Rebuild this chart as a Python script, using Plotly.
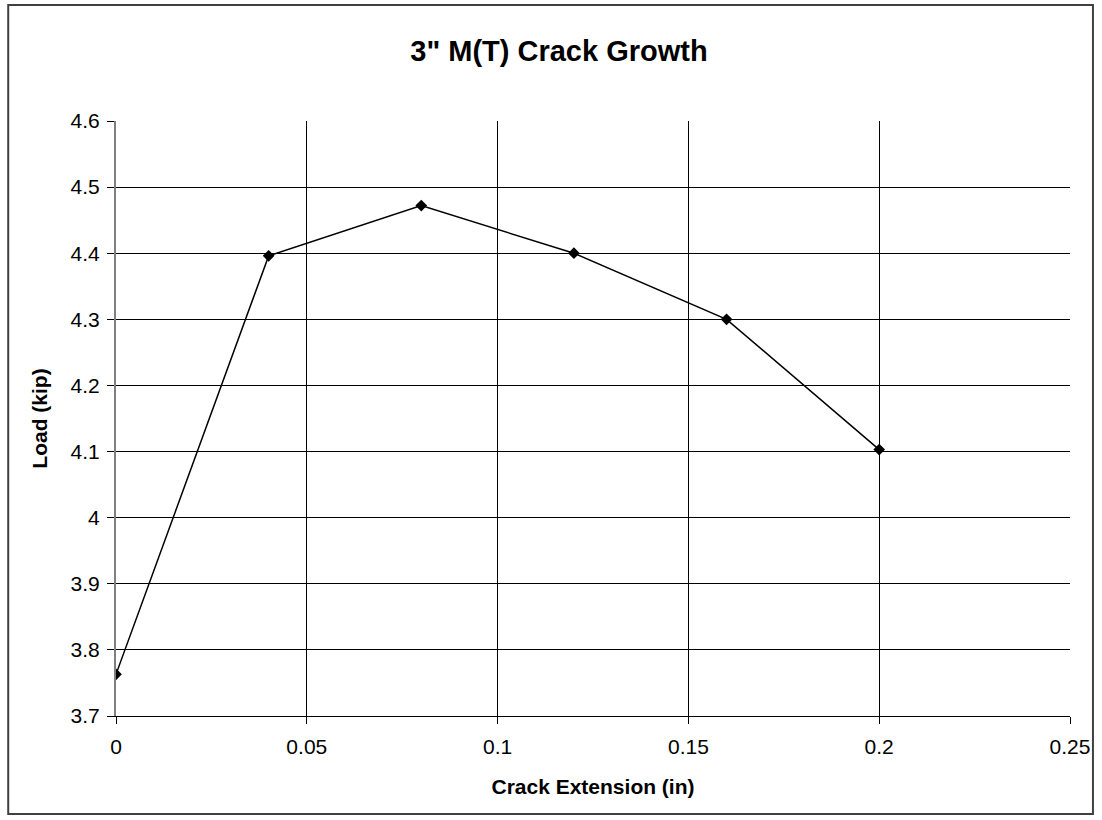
import plotly.graph_objects as go

crack_ext = [0, 0.04, 0.08, 0.12, 0.16, 0.2]
load_kip = [3.763, 4.396, 4.472, 4.400, 4.300, 4.103]

W, H = 1102, 820
L, R, T, B = 116, 30, 121, 104
pw, ph = W - L - R, H - T - B

def px(x):
    return (x - L) / pw

def py(y):
    return (H - B - y) / ph

fig = go.Figure()
fig.add_trace(go.Scatter(
    x=crack_ext, y=load_kip, mode="lines+markers",
    line=dict(color="black", width=1.5),
    marker=dict(symbol="diamond", size=9, color="black"),
    showlegend=False,
))

fig.update_layout(
    width=W, height=H,
    margin=dict(l=L, r=R, t=T, b=B),
    paper_bgcolor="white", plot_bgcolor="white",
    font=dict(family="Arial, Liberation Sans, sans-serif", size=21, color="black"),
    title=dict(text="<b>3\" M(T) Crack Growth</b>", x=559 / W, xanchor="center",
               y=1 - 51 / H, yanchor="middle", font=dict(size=29)),
    xaxis=dict(range=[0, 0.25], dtick=0.05, tick0=0, showgrid=True, gridcolor="black", gridwidth=1,
               showline=True, linecolor="black", linewidth=1, mirror=False,
               ticks="outside", ticklen=7, tickcolor="black", zeroline=False,
               tickfont=dict(size=21), ticklabelstandoff=5,
               title=dict(text="<b>Crack Extension (in)</b>", font=dict(size=21), standoff=22)),
    yaxis=dict(range=[3.7, 4.6], dtick=0.1, tick0=3.7, showgrid=True, gridcolor="black", gridwidth=1,
               showline=True, linecolor="#808080", linewidth=2,
               ticks="outside", ticklen=7, tickcolor="black", zeroline=False,
               tickfont=dict(size=21), ticklabelstandoff=3,
               title=dict(text="<b>Load (kip)</b>", font=dict(size=21), standoff=17)),
    shapes=[dict(type="rect", xref="paper", yref="paper",
                 x0=px(8), x1=px(1095), y0=py(814), y1=py(5),
                 line=dict(color="#404040", width=2), fillcolor="rgba(0,0,0,0)", layer="below")],
)

fig.write_html("out.html", config={"displayModeBar": False},
               post_script="document.body.style.margin='0px';")
